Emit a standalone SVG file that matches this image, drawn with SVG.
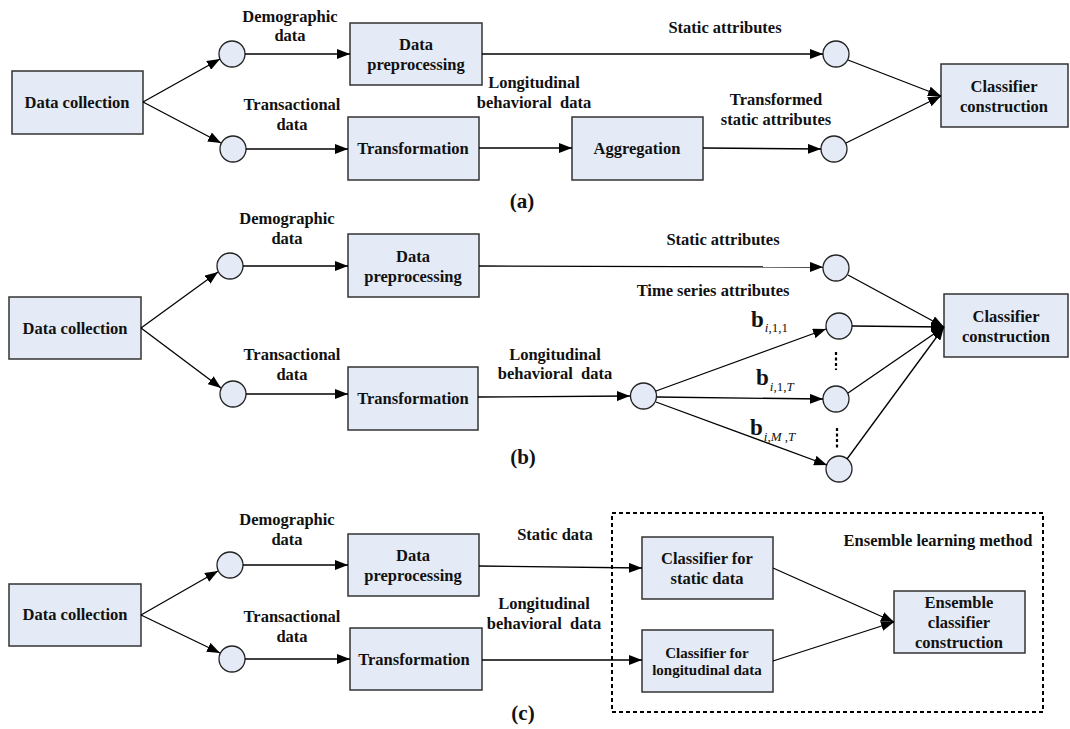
<svg xmlns="http://www.w3.org/2000/svg" width="1070" height="729" viewBox="0 0 1070 729" font-family="'Liberation Serif', 'Times New Roman', serif">
<defs>
<marker id="ah" markerUnits="userSpaceOnUse" markerWidth="14" markerHeight="10" refX="13" refY="5" orient="auto">
<path d="M0,0 L13,5 L0,10 z" fill="#000"/>
</marker>
</defs>
<style>
.box{fill:#E4EBF6;stroke:#333;stroke-width:1.5}
.cir{fill:#E4EBF6;stroke:#222;stroke-width:1.3}
.ar{stroke:#000;stroke-width:1.3;fill:none;marker-end:url(#ah)}
text{font-family:'Liberation Serif','Times New Roman',serif;font-weight:bold;font-size:16.5px;fill:#111;text-anchor:middle}
.sm{font-size:15px}
.cap{font-size:21px}
.b{font-size:23px;text-anchor:start}
.sub{font-size:13px;font-weight:normal}
.it{font-style:italic}
.dot{stroke:#000;stroke-width:2.2;stroke-dasharray:3,2.5;fill:none}
.dash{stroke:#000;stroke-width:2;stroke-dasharray:4,3;fill:none}
</style>

<!-- ===== (a) ===== -->
<g id="a-datacollection"><rect class="box" x="12" y="71" width="131" height="63"/><text x="77" y="108">Data collection</text></g>
<g id="a-c1"><circle class="cir" cx="232" cy="54" r="13"/></g>
<g id="a-c2"><circle class="cir" cx="233" cy="149" r="13"/></g>
<g id="a-preproc"><rect class="box" x="350" y="23" width="132" height="62"/><text x="416" y="50">Data</text><text x="416" y="70">preprocessing</text></g>
<g id="a-transf"><rect class="box" x="348" y="117" width="131" height="63"/><text x="413" y="154">Transformation</text></g>
<g id="a-aggr"><rect class="box" x="572" y="117" width="131" height="63"/><text x="637" y="154">Aggregation</text></g>
<g id="a-c3"><circle class="cir" cx="836" cy="54" r="13"/></g>
<g id="a-c4"><circle class="cir" cx="834" cy="149" r="13"/></g>
<g id="a-classifier"><rect class="box" x="941" y="64" width="127" height="63"/><text x="1004" y="92">Classifier</text><text x="1004" y="112">construction</text></g>
<g id="a-labels">
<text x="290" y="22">Demographic</text><text x="290" y="41">data</text>
<text x="292" y="110">Transactional</text><text x="292" y="130">data</text>
<text x="725" y="33">Static attributes</text>
<text x="534" y="88">Longitudinal</text><text x="534" y="108" xml:space="preserve">behavioral  data</text>
<text x="776" y="105">Transformed</text><text x="776" y="125">static attributes</text>
<text class="cap" x="522" y="208">(a)</text>
</g>

<!-- ===== (b) ===== -->
<g id="b-datacollection"><rect class="box" x="9" y="297" width="132" height="62"/><text x="75" y="334">Data collection</text></g>
<g id="b-c1"><circle class="cir" cx="230" cy="266" r="13"/></g>
<g id="b-c2"><circle class="cir" cx="233" cy="394" r="13"/></g>
<g id="b-preproc"><rect class="box" x="348" y="234" width="131" height="63"/><text x="413" y="262">Data</text><text x="413" y="282">preprocessing</text></g>
<g id="b-transf"><rect class="box" x="348" y="367" width="130" height="63"/><text x="413" y="404">Transformation</text></g>
<g id="b-cmid"><circle class="cir" cx="643.5" cy="396" r="13"/></g>
<g id="b-cs"><circle class="cir" cx="836" cy="268" r="13"/></g>
<g id="b-t1"><circle class="cir" cx="839" cy="326" r="13"/></g>
<g id="b-t2"><circle class="cir" cx="836" cy="399" r="13"/></g>
<g id="b-t3"><circle class="cir" cx="839" cy="469" r="13"/></g>
<g id="b-classifier"><rect class="box" x="944" y="294" width="124" height="63"/><text x="1006" y="322">Classifier</text><text x="1006" y="342">construction</text></g>
<g id="b-labels">
<text x="287" y="224">Demographic</text><text x="287" y="244">data</text>
<text x="292" y="360">Transactional</text><text x="292" y="380">data</text>
<text x="723" y="245">Static attributes</text>
<text x="713" y="296">Time series attributes</text>
<text x="555" y="360">Longitudinal</text><text x="555" y="379" xml:space="preserve">behavioral  data</text>
<text class="b" x="751" y="327">b<tspan class="sub" dx="1" dy="5"><tspan class="it">i</tspan>,1,1</tspan></text>
<text class="b" x="756" y="385">b<tspan class="sub" dx="1" dy="6"><tspan class="it">i</tspan>,1,<tspan class="it">T</tspan></tspan></text>
<text class="b" x="750" y="435">b<tspan class="sub" dx="1" dy="6"><tspan class="it">i</tspan>,<tspan class="it">M</tspan> ,<tspan class="it">T</tspan></tspan></text>
<text class="cap" x="523" y="464">(b)</text>
</g>

<!-- ===== (c) ===== -->
<g id="c-datacollection"><rect class="box" x="9" y="584" width="132" height="62"/><text x="75" y="620">Data collection</text></g>
<g id="c-c1"><circle class="cir" cx="230" cy="565" r="13"/></g>
<g id="c-c2"><circle class="cir" cx="232" cy="659" r="13"/></g>
<g id="c-preproc"><rect class="box" x="348" y="534" width="131" height="62"/><text x="413" y="561">Data</text><text x="413" y="581">preprocessing</text></g>
<g id="c-transf"><rect class="box" x="350" y="628" width="132" height="62"/><text x="414" y="665">Transformation</text></g>
<g id="c-ensemblebox"><rect class="dash" x="612" y="513" width="431" height="199"/><text x="938" y="546">Ensemble learning method</text></g>
<g id="c-clfstatic"><rect class="box" x="642" y="537" width="131" height="62"/><text x="707" y="564">Classifier for</text><text x="707" y="584">static data</text></g>
<g id="c-clflong"><rect class="box" x="642" y="630" width="131" height="62"/><text class="sm" x="707" y="658">Classifier for</text><text class="sm" x="707" y="675">longitudinal data</text></g>
<g id="c-ensemble"><rect class="box" x="894" y="591" width="131" height="62"/><text x="959" y="608">Ensemble</text><text x="959" y="628">classifier</text><text x="959" y="648">construction</text></g>
<g id="c-labels">
<text x="287" y="525">Demographic</text><text x="287" y="545">data</text>
<text x="292" y="622">Transactional</text><text x="292" y="642">data</text>
<text x="555" y="540">Static data</text>
<text x="544" y="609">Longitudinal</text><text x="544" y="629" xml:space="preserve">behavioral  data</text>
<text class="cap" x="523" y="720">(c)</text>
</g>

<!-- ===== connectors ===== -->
<g id="connectors">
<line class="ar" x1="143" y1="102" x2="220" y2="59"/>
<line class="ar" x1="143" y1="102" x2="221" y2="143"/>
<line class="ar" x1="245" y1="54" x2="350" y2="54"/>
<line class="ar" x1="246" y1="149" x2="348" y2="149"/>
<line class="ar" x1="482" y1="54" x2="823" y2="54"/>
<line class="ar" x1="479" y1="148" x2="572" y2="148"/>
<line class="ar" x1="703" y1="148" x2="821" y2="149"/>
<line class="ar" x1="848" y1="60" x2="941" y2="96"/>
<line class="ar" x1="846" y1="143" x2="941" y2="96"/>
<line class="ar" x1="141" y1="328" x2="218" y2="272"/>
<line class="ar" x1="141" y1="328" x2="221" y2="388"/>
<line class="ar" x1="243" y1="266" x2="348" y2="266"/>
<line class="ar" x1="246" y1="394" x2="348" y2="394"/>
<line class="ar" x1="479" y1="266" x2="823" y2="267"/>
<line class="ar" x1="478" y1="397" x2="630" y2="396"/>
<line class="ar" x1="656" y1="391" x2="826" y2="329"/>
<line class="ar" x1="657" y1="397" x2="823" y2="399"/>
<line class="ar" x1="656" y1="402" x2="827" y2="465"/>
<line class="ar" x1="848" y1="275" x2="944" y2="327"/>
<line class="ar" x1="852" y1="326" x2="944" y2="327"/>
<line class="ar" x1="848" y1="393" x2="944" y2="327"/>
<line class="ar" x1="847" y1="459" x2="944" y2="327"/>
<line class="dot" x1="836" y1="352" x2="836" y2="370"/>
<line class="dot" x1="837" y1="428" x2="837" y2="450"/>
<line class="ar" x1="141" y1="615" x2="218" y2="571"/>
<line class="ar" x1="141" y1="615" x2="220" y2="653"/>
<line class="ar" x1="243" y1="565" x2="348" y2="565"/>
<line class="ar" x1="245" y1="659" x2="350" y2="659"/>
<line class="ar" x1="479" y1="566" x2="642" y2="568"/>
<line class="ar" x1="482" y1="660" x2="642" y2="660"/>
<line class="ar" x1="773" y1="568" x2="894" y2="622"/>
<line class="ar" x1="773" y1="661" x2="894" y2="622"/>
</g>
</svg>
